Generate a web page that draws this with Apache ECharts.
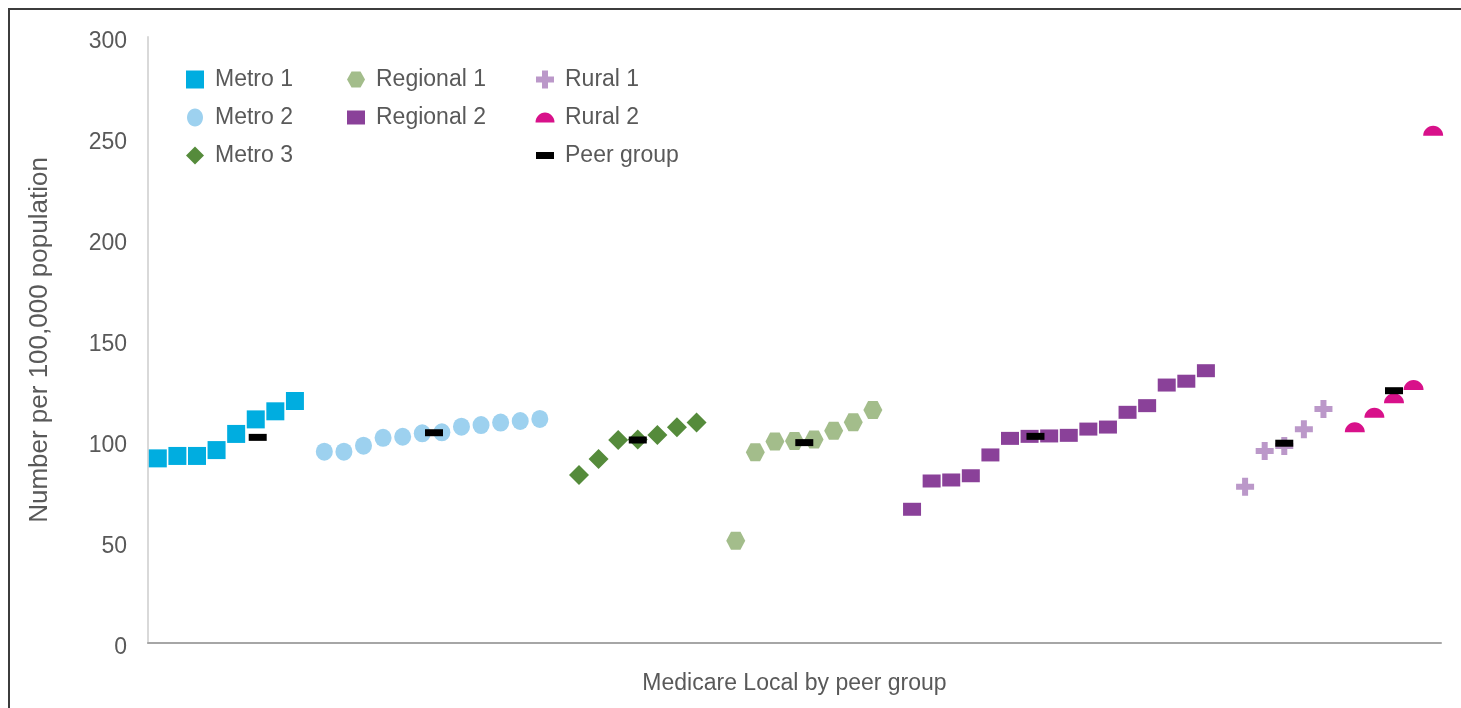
<!DOCTYPE html>
<html>
<head>
<meta charset="utf-8">
<script src="https://cdn.jsdelivr.net/npm/echarts@6/dist/echarts.min.js"></script>
<style>
html,body{margin:0;padding:0;background:#fff;}
#chart{width:1461px;height:708px;}
</style>
</head>
<body>
<div id="chart"></div>
<script>
// ---- data ----
const seriesNames = ['Metro 1','Metro 2','Metro 3','Regional 1','Regional 2','Rural 1','Rural 2','Peer group'];
const metro1 = [91.4, 92.6, 92.6, 95.5, 103.5, 110.7, 114.7, 119.8];
const metro2 = [94.7, 94.7, 97.7, 101.6, 102.1, 103.8, 104.3, 107.1, 107.9, 109.1, 109.9, 110.9];
const metro3 = [83.2, 91.1, 100.5, 100.8, 103.0, 106.8, 109.1];
const regional1 = [50.6, 94.4, 99.7, 100.0, 100.8, 105.1, 109.3, 115.3];
const regional2 = [66.2, 80.2, 80.7, 82.8, 93.1, 101.3, 102.3, 102.5, 102.8, 105.9, 106.9, 114.2, 117.5, 127.7, 129.6, 134.8];
const rural1 = [77.4, 95.0, 97.5, 105.8, 115.8];
const rural2 = [104.3, 111.5, 118.7, 125.2, 251.1];
// position (index along the x scale) of each group's first Medicare Local
const groupStart = [0.5, 9, 22, 30, 39, 56, 61.6];
const peerValues = [101.8, 104.1, 100.5, 99.2, 102.3, 98.9, 124.9];
const peerPos = [5.6, 14.6, 25, 33.5, 45.3, 58, 63.6];
const yTicks = [0, 50, 100, 150, 200, 250, 300];

const groups = [metro1, metro2, metro3, regional1, regional2, rural1, rural2];
const colors = ['#00ADE0', '#9DD1EF', '#558B3B', '#A3BD8B', '#8A4199', '#BB98C9', '#D8118A', '#000000'];
const symbols = [
  'rect',
  'circle',
  'diamond',
  'path://M0,50 L25,0 L75,0 L100,50 L75,100 L25,100 Z',
  'rect',
  'path://M6,0 L12,0 L12,6 L18,6 L18,12 L12,12 L12,18 L6,18 L6,12 L0,12 L0,6 L6,6 Z',
  'path://M0,10 C0,4.5 4.5,0 10,0 C15.5,0 20,4.5 20,10 Z',
  'rect'
];
// legend icons drawn inside a 22x18 box (the leading moves fix the box)
const legendIcons = [
  'path://M0,0 M22,18 M2,0 L20,0 L20,18 L2,18 Z',
  'path://M0,0 M22,18 M11,0 C15.4,0 19,4 19,9 C19,14 15.4,18 11,18 C6.6,18 3,14 3,9 C3,4 6.6,0 11,0 Z',
  'path://M0,0 M22,18 M11,0 L20,9 L11,18 L2,9 Z',
  'path://M0,0 M22,18 M2,9 L6.5,1 L15.5,1 L20,9 L15.5,17 L6.5,17 Z',
  'path://M0,0 M22,18 M2,2 L20,2 L20,16 L2,16 Z',
  'path://M0,0 M22,18 M8,0 L14,0 L14,6 L20,6 L20,12 L14,12 L14,18 L8,18 L8,12 L2,12 L2,6 L8,6 Z',
  'path://M0,0 M22,18 M1.5,14 C1.5,8.5 5.8,4 11,4 C16.2,4 20.5,8.5 20.5,14 Z',
  'path://M0,0 M22,18 M2,5.5 L20,5.5 L20,12.5 L2,12.5 Z'
];
const sizes = [[18,18],[17,18],[20,20],[19,18],[18,13],[18,18],[20,10],[18,7]];
const offsets = [[0,0],[0,0],[0,0],[0,0],[0,0],[0,0],[0,-5],[0,0]];

const series = groups.map((vals, g) => ({
  name: seriesNames[g],
  type: 'scatter',
  symbol: symbols[g],
  symbolSize: sizes[g],
  symbolOffset: offsets[g],
  itemStyle: { color: colors[g], opacity: 1 },
  emphasis: { disabled: true },
  z: 2,
  data: vals.map((v, i) => [groupStart[g] + i, v])
}));
series.push({
  name: 'Peer group',
  type: 'scatter',
  symbol: symbols[7],
  symbolSize: sizes[7],
  itemStyle: { color: '#000', opacity: 1 },
  emphasis: { disabled: true },
  z: 5,
  data: peerValues.map((v, i) => [peerPos[i], v])
});

const FONT = 'Liberation Sans, Arial, sans-serif';
const legendText = { color: '#595959', fontSize: 23, fontFamily: FONT, padding: [0,0,0,4] };
function legendCfg(left, items) {
  return {
    orient: 'vertical', left: left, top: 68, padding: 0, itemWidth: 22, itemHeight: 18, itemGap: 15,
    symbolKeepAspect: true, selectedMode: false, textStyle: legendText,
    data: items.map(n => {
      const k = seriesNames.indexOf(n);
      return { name: n, icon: legendIcons[k], itemStyle: { color: colors[k], opacity: 1 } };
    })
  };
}

const chart = echarts.init(document.getElementById('chart'), null, { renderer: 'canvas' });
chart.setOption({
  animation: false,
  backgroundColor: '#fff',
  graphic: [{
    type: 'rect', z: 100, silent: true,
    shape: { x: 9, y: 9, width: 1480, height: 740 },
    style: { fill: 'none', stroke: '#3c3c3c', lineWidth: 2 }
  }],
  legend: [
    legendCfg(184, ['Metro 1', 'Metro 2', 'Metro 3']),
    legendCfg(345, ['Regional 1', 'Regional 2']),
    legendCfg(534, ['Rural 1', 'Rural 2', 'Peer group'])
  ],
  grid: { left: 148, right: 20, top: 37, bottom: 65, containLabel: false },
  xAxis: {
    type: 'value', min: 0, max: 66,
    axisLine: { show: true, lineStyle: { color: '#a6a6a6', width: 2 } },
    axisTick: { show: false }, axisLabel: { show: false }, splitLine: { show: false },
    name: 'Medicare Local by peer group', nameLocation: 'middle', nameGap: 29,
    nameTextStyle: { color: '#595959', fontSize: 23, fontFamily: FONT }
  },
  yAxis: {
    type: 'value', min: yTicks[0], max: yTicks[yTicks.length - 1], interval: yTicks[1] - yTicks[0],
    axisLine: { show: true, lineStyle: { color: '#d9d9d9', width: 2 } },
    axisTick: { show: false }, splitLine: { show: false },
    axisLabel: { color: '#595959', fontSize: 23, margin: 21, fontFamily: FONT, verticalAlign: 'top', lineHeight: 10 },
    name: 'Number per 100,000 population', nameLocation: 'middle', nameGap: 95,
    nameTextStyle: { color: '#595959', fontSize: 26, fontFamily: FONT }
  },
  series: series
});
</script>
</body>
</html>
